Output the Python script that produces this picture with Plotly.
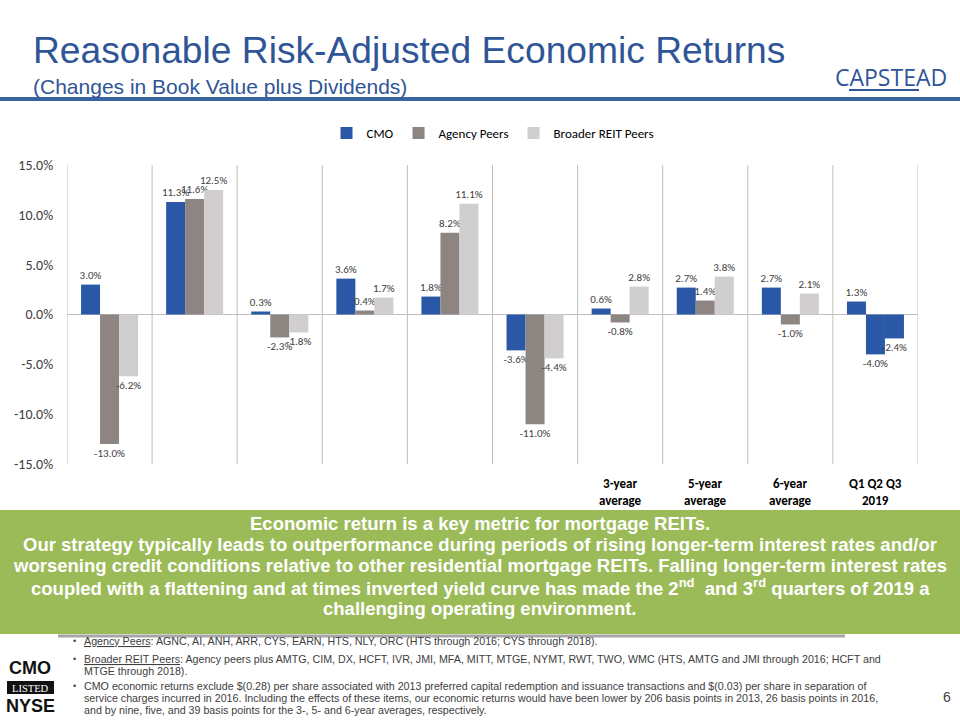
import plotly.graph_objects as go

# ---------------- data ----------------
categories = ["2013", "2014", "2015", "2016", "2017", "2018",
              "3-year<br>average", "5-year<br>average", "6-year<br>average", "Q1 Q2 Q3<br>2019"]
cmo = [3.0, 11.3, 0.3, 3.6, 1.8, -3.6, 0.6, 2.7, 2.7, 1.3]
agency_peers = [-13.0, 11.6, -2.3, 0.4, 8.2, -11.0, -0.8, 1.4, -1.0, -4.0]
broader_reit_peers = [-6.2, 12.5, -1.8, 1.7, 11.1, -4.4, 2.8, 3.8, 2.1, -2.4]
series_names = ["CMO", "Agency Peers", "Broader REIT Peers"]
y_ticks = [-15, -10, -5, 0, 5, 10, 15]

title = "Reasonable Risk-Adjusted Economic Returns"
subtitle = "(Changes in Book Value plus Dividends)"
callout_lines = [
    "Economic return is a key metric for mortgage REITs.",
    "Our strategy typically leads to outperformance during periods of rising longer-term interest rates and/or",
    "worsening credit conditions relative to other residential mortgage REITs. Falling longer-term interest rates",
    "coupled with a flattening and at times inverted yield curve has made the 2<sup>nd</sup>  and 3<sup>rd</sup> quarters of 2019 a",
    "challenging operating environment.",
]
footnote_lines = [
    ("\u2022", "<u>Agency Peers</u>: AGNC, AI, ANH, ARR, CYS, EARN, HTS, NLY, ORC (HTS through 2016; CYS through 2018)."),
    ("\u2022", "<u>Broader REIT Peers</u>: Agency peers plus AMTG, CIM, DX, HCFT, IVR, JMI, MFA, MITT, MTGE, NYMT, RWT, TWO, WMC (HTS, AMTG and JMI through 2016; HCFT and"),
    ("", "MTGE through 2018)."),
    ("\u2022", "CMO economic returns exclude $(0.28) per share associated with 2013 preferred capital redemption and issuance transactions and $(0.03) per share in separation of"),
    ("", "service charges incurred in 2016. Including the effects of these items, our economic returns would have been lower by 206 basis points in 2013, 26 basis points in 2016,"),
    ("", "and by nine, five, and 39 basis points for the 3-, 5- and 6-year averages, respectively."),
]
page_number = "6"

# ---------------- style ----------------
W, H = 960, 720
L, R, T, B = 67, 918, 165, 464
BLUE = "#2B58A6"
GRAY = "#8C8582"
LIGHT = "#D0CECE"
TITLE_BLUE = "#2F5597"
GREEN = "#9BBB59"
GRID = "#BFBFBF"
CHART_FONT = "Carlito, Lato, sans-serif"
SANS = "Liberation Sans, Arial, sans-serif"


def px(x):
    return (x - L) / (R - L)


def py(y):
    return (B - y) / (B - T)


n = len(categories)
colors = [
    [BLUE] * n,
    [GRAY] * (n - 1) + [BLUE],
    [LIGHT] * (n - 1) + [BLUE],
]

fig = go.Figure()
for name, vals, col in zip(series_names, [cmo, agency_peers, broader_reit_peers], colors):
    fig.add_trace(go.Bar(
        x=categories, y=vals, name=name,
        marker=dict(color=col, line=dict(width=0)),
        texttemplate="%{y:.1f}%", textposition="outside",
        textfont=dict(family=CHART_FONT, size=11, color="#404040"),
        constraintext="none", cliponaxis=False,
        hoverinfo="skip",
    ))

shapes = []
for i in range(n + 1):
    shapes.append(dict(type="line", xref="x", yref="y", x0=i - 0.5, x1=i - 0.5,
                       y0=y_ticks[0], y1=y_ticks[-1], line=dict(color=GRID, width=1), layer="below"))
shapes.append(dict(type="line", xref="paper", yref="paper", x0=px(0), x1=px(960), y0=py(99), y1=py(99),
                   line=dict(color="#3A64A0", width=4)))
shapes.append(dict(type="line", xref="paper", yref="paper", x0=px(849), x1=px(919), y0=py(90), y1=py(90),
                   line=dict(color=TITLE_BLUE, width=2)))
shapes.append(dict(type="rect", xref="paper", yref="paper", x0=px(0), x1=px(960), y0=py(634), y1=py(510),
                   fillcolor=GREEN, line=dict(width=0), layer="below"))
shapes.append(dict(type="line", xref="paper", yref="paper", x0=px(58), x1=px(845), y0=py(636), y1=py(636),
                   line=dict(color="#A6A6A6", width=3)))
shapes.append(dict(type="rect", xref="paper", yref="paper", x0=px(7), x1=px(54), y0=py(694), y1=py(681),
                   fillcolor="#111111", line=dict(width=0)))

annotations = []
for c in categories:
    annotations.append(dict(x=c, xref="x", y=py(492), yref="paper", text="<b>" + c + "</b>",
                            showarrow=False, xanchor="center", yanchor="middle",
                            font=dict(family=CHART_FONT, size=13, color="#000000")))
annotations.append(dict(x=px(31), y=py(50), xref="paper", yref="paper", text=title, showarrow=False,
                        xanchor="left", yanchor="middle",
                        font=dict(family=SANS, size=37.2, color=TITLE_BLUE)))
annotations.append(dict(x=px(31), y=py(87), xref="paper", yref="paper", text=subtitle, showarrow=False,
                        xanchor="left", yanchor="middle",
                        font=dict(family=SANS, size=21, color=TITLE_BLUE)))
annotations.append(dict(x=px(891), y=py(77), xref="paper", yref="paper", text="CAPSTEAD", showarrow=False,
                        xanchor="center", yanchor="middle",
                        font=dict(family="Open Sans, sans-serif", size=23, color=TITLE_BLUE)))
for k, line in enumerate(callout_lines):
    annotations.append(dict(x=px(480), y=py(523 + 21.3 * k), xref="paper", yref="paper",
                            text="<b>" + line + "</b>", showarrow=False, xanchor="center", yanchor="middle",
                            font=dict(family=SANS, size=18.5, color="#FFFFFF")))
foot_y = [641, 659, 671, 686, 698, 710]
for (bullet, line), yy in zip(footnote_lines, foot_y):
    if bullet:
        annotations.append(dict(x=px(74), y=py(yy), xref="paper", yref="paper", text=bullet, showarrow=False,
                                xanchor="center", yanchor="middle",
                                font=dict(family=SANS, size=9, color="#404040")))
    annotations.append(dict(x=px(82), y=py(yy), xref="paper", yref="paper", text=line, showarrow=False,
                            xanchor="left", yanchor="middle",
                            font=dict(family=SANS, size=10.7, color="#404040")))
annotations.append(dict(x=px(947), y=py(697), xref="paper", yref="paper", text=page_number, showarrow=False,
                        xanchor="center", yanchor="middle",
                        font=dict(family=SANS, size=14, color="#404040")))
annotations.append(dict(x=px(30), y=py(668), xref="paper", yref="paper", text="<b>CMO</b>", showarrow=False,
                        xanchor="center", yanchor="middle",
                        font=dict(family=SANS, size=18, color="#111111")))
annotations.append(dict(x=px(30.5), y=py(688), xref="paper", yref="paper", text="LISTED", showarrow=False,
                        xanchor="center", yanchor="middle",
                        font=dict(family="Liberation Serif, serif", size=10.5, color="#FFFFFF")))
annotations.append(dict(x=px(30), y=py(706), xref="paper", yref="paper", text="<b>NYSE</b>", showarrow=False,
                        xanchor="center", yanchor="middle",
                        font=dict(family=SANS, size=18, color="#111111")))

fig.update_layout(
    width=W, height=H,
    margin=dict(l=L, r=W - R, t=T, b=H - B, autoexpand=False),
    paper_bgcolor="#FFFFFF", plot_bgcolor="#FFFFFF",
    barmode="group", bargap=0.33, bargroupgap=0,
    showlegend=True,
    legend=dict(orientation="h", x=0.5, xanchor="center", y=py(133), yanchor="middle",
                font=dict(family=CHART_FONT, size=13, color="#000000"),
                itemwidth=30, tracegroupgap=0, bgcolor="rgba(0,0,0,0)"),
    xaxis=dict(range=[-0.5, n - 0.5], showticklabels=False, showgrid=False, zeroline=False,
               showline=False, ticks=""),
    yaxis=dict(range=[y_ticks[0], y_ticks[-1]], tickvals=y_ticks,
               ticktext=[f"{v:.1f}%" for v in y_ticks], showgrid=False,
               zeroline=True, zerolinecolor=GRID, zerolinewidth=1, showline=False,
               ticks="outside", ticklen=10, tickcolor="rgba(0,0,0,0)",
               tickfont=dict(family=CHART_FONT, size=14, color="#404040")),
    shapes=shapes, annotations=annotations,
    font=dict(family=CHART_FONT),
)

fig.write_html("out.html", config={"displayModeBar": False},
               post_script="document.body.style.margin='0px';document.body.style.overflow='hidden';")
